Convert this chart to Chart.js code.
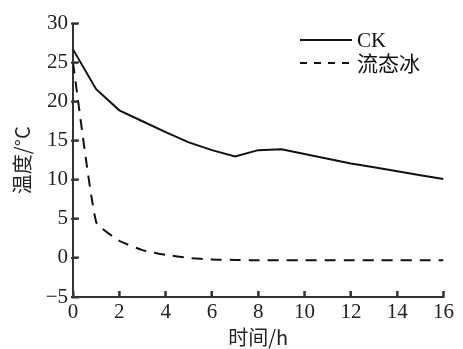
<!DOCTYPE html>
<html>
<head>
<meta charset="utf-8">
<script src="https://cdn.jsdelivr.net/npm/chart.js@4/dist/chart.umd.min.js"></script>
</head>
<body style="margin:0;background:#fff">
<canvas id="c" width="463" height="349"></canvas>
<script>
// Storage time (h) and measured temperature (°C)
const hours = [0, 1, 2, 3, 4, 5, 6, 7, 8, 9, 10, 11, 12, 13, 14, 15, 16];
const ckTemp = [26.7, 21.6, 18.9, 17.5, 16.1, 14.8, 13.8, 13.0, 13.8, 13.9, 13.3, 12.7, 12.1, 11.6, 11.1, 10.6, 10.1];
const iceTemp = [25.0, 4.6, 2.2, 1.0, 0.4, 0.0, -0.2, -0.25, -0.3, -0.3, -0.3, -0.3, -0.3, -0.3, -0.3, -0.3, -0.3];
const seriesNames = ['CK', '流态冰'];
const xTitle = '时间/h';
const yTitle = '温度/°C';

const latinFont = 'Liberation Serif';
const cjkFont = 'Noto Sans CJK SC';
const axisColor = '#333';
const lineColor = '#111';

// Short tick marks pointing into the plot area
const innerTicks = {
  id: 'innerTicks',
  afterDatasetsDraw(chart) {
    const ctx = chart.ctx;
    const xs = chart.scales.x, ys = chart.scales.y;
    const area = chart.chartArea;
    ctx.save();
    ctx.strokeStyle = axisColor;
    ctx.lineWidth = 2;
    ctx.setLineDash([]);
    xs.ticks.forEach(t => {
      const px = xs.getPixelForValue(t.value);
      ctx.beginPath();
      ctx.moveTo(px, area.bottom);
      ctx.lineTo(px, area.bottom - 6);
      ctx.stroke();
    });
    ys.ticks.forEach(t => {
      const py = ys.getPixelForValue(t.value);
      ctx.beginPath();
      ctx.moveTo(area.left - 2, py);
      ctx.lineTo(area.left + 5, py);
      ctx.stroke();
    });
    ctx.restore();
  }
};

// Two-row key in the upper right corner, styled from the datasets
const cornerKey = {
  id: 'cornerKey',
  afterDraw(chart) {
    const ctx = chart.ctx;
    const x0 = 300, x1 = 352, rows = [40, 63];
    ctx.save();
    chart.data.datasets.forEach((ds, i) => {
      const yy = rows[i];
      ctx.strokeStyle = ds.borderColor;
      ctx.lineWidth = ds.borderWidth;
      ctx.setLineDash(i === 0 ? [] : [7, 7]);
      ctx.beginPath();
      ctx.moveTo(x0, yy);
      ctx.lineTo(x1, yy);
      ctx.stroke();
      ctx.setLineDash([]);
      ctx.fillStyle = '#111';
      ctx.textBaseline = 'middle';
      ctx.font = (i === 0 ? '21px "' + latinFont : '21px "' + cjkFont) + '"';
      ctx.fillText(ds.label, 357, yy + (i === 0 ? 1 : 0));
    });
    ctx.restore();
  }
};

new Chart(document.getElementById('c'), {
  type: 'line',
  data: {
    datasets: [
      {
        label: seriesNames[0],
        data: hours.map((h, i) => ({ x: h, y: ckTemp[i] })),
        borderColor: lineColor,
        borderWidth: 2,
        pointRadius: 0,
        tension: 0,
        fill: false
      },
      {
        label: seriesNames[1],
        data: hours.map((h, i) => ({ x: h, y: iceTemp[i] })),
        borderColor: lineColor,
        borderWidth: 2,
        borderDash: [11, 8],
        pointRadius: 0,
        tension: 0.15,
        fill: false
      }
    ]
  },
  options: {
    responsive: false,
    animation: false,
    layout: { padding: { top: 20, right: 17, left: 0, bottom: 0 } },
    plugins: { legend: { display: false }, tooltip: { enabled: false } },
    scales: {
      x: {
        type: 'linear',
        min: 0, max: 16,
        grid: { display: true, drawOnChartArea: false, drawTicks: true, tickLength: -6, tickWidth: 2, color: axisColor },
        border: { display: true, color: axisColor, width: 2 },
        ticks: {
          stepSize: 2, color: '#222', padding: 9,
          font: { family: latinFont, size: 21 }
        },
        title: {
          display: true, text: xTitle, color: '#222', padding: { top: -5, bottom: 0 },
          font: { family: cjkFont, size: 20 }
        },
        afterFit(s) { s.height = 52; }
      },
      y: {
        min: -5, max: 30,
        grid: { display: true, drawOnChartArea: false, drawTicks: true, tickLength: -6, tickWidth: 2, color: axisColor },
        border: { display: true, color: axisColor, width: 2 },
        ticks: {
          stepSize: 5, color: '#222', padding: 11,
          font: { family: latinFont, size: 21 },
          callback: v => String(v).replace('-', '\u2212')
        },
        title: {
          display: true, text: yTitle, color: '#222', padding: { top: 10, bottom: 0 },
          font: { family: cjkFont, size: 20 }
        },
        afterFit(s) { s.width = 73; }
      }
    }
  },
  plugins: [innerTicks, cornerKey]
});
</script>
</body>
</html>
